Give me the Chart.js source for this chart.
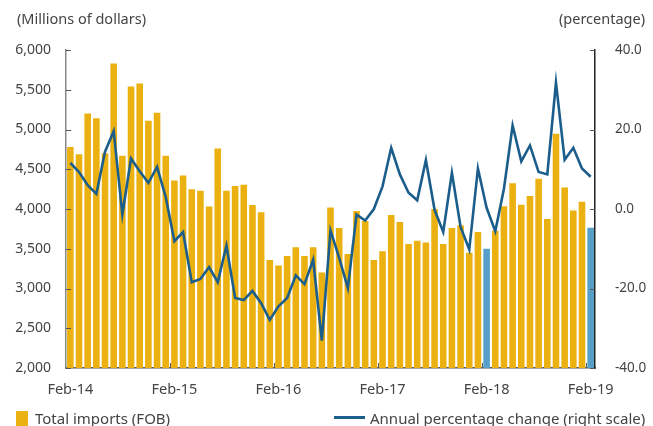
<!DOCTYPE html>
<html lang="en">
<head>
    <meta charset="UTF-8">
    <title>Total imports (FOB)</title>
    <script src="https://cdn.jsdelivr.net/npm/chart.js"></script>
    <style>
        body { margin: 0; background: #fff; font-family: "Noto Sans", sans-serif; color: #444; }
        #wrap { position: relative; width: 653px; height: 426px; overflow: hidden; }
        .note { position: absolute; font-size: 14.5px; top: 8px; }
        .legend { position: absolute; font-size: 15px; top: 408px; white-space: nowrap; }
        .swatch { display: inline-block; width: 12px; height: 15px; background: #ebb110; vertical-align: -2px; margin-right: 7px; }
        .lineKey { display: inline-block; width: 31px; height: 3px; background: #1b5e8c; vertical-align: 5px; margin-right: 5px; }
    </style>
</head>
<body>
<div id="wrap">
    <canvas id="importsChart" width="653" height="426"></canvas>
    <div class="note" style="left:17px;">(Millions of dollars)</div>
    <div class="note" style="right:8px;">(percentage)</div>
    <div class="legend" style="left:16px;"><span class="swatch"></span>Total imports (FOB)</div>
    <div class="legend" style="left:334px;"><span class="lineKey"></span>Annual percentage change (right scale)</div>
</div>

<script>
    // Monthly categories, Feb-14 .. Feb-19
    const months = [
        'Feb-14','Mar-14','Apr-14','May-14','Jun-14','Jul-14','Aug-14','Sep-14','Oct-14','Nov-14','Dec-14','Jan-15',
        'Feb-15','Mar-15','Apr-15','May-15','Jun-15','Jul-15','Aug-15','Sep-15','Oct-15','Nov-15','Dec-15','Jan-16',
        'Feb-16','Mar-16','Apr-16','May-16','Jun-16','Jul-16','Aug-16','Sep-16','Oct-16','Nov-16','Dec-16','Jan-17',
        'Feb-17','Mar-17','Apr-17','May-17','Jun-17','Jul-17','Aug-17','Sep-17','Oct-17','Nov-17','Dec-17','Jan-18',
        'Feb-18','Mar-18','Apr-18','May-18','Jun-18','Jul-18','Aug-18','Sep-18','Oct-18','Nov-18','Dec-18','Jan-19',
        'Feb-19'
    ];

    // Total imports (FOB), millions of dollars
    const imports = [
        4780, 4690, 5200, 5140, 4700, 5830, 4670, 5540, 5580, 5110, 5210, 4670,
        4360, 4420, 4250, 4230, 4030, 4760, 4230, 4290, 4305, 4050, 3960, 3360,
        3290, 3410, 3520, 3410, 3520, 3200, 4020, 3760, 3435, 3975, 3850, 3360,
        3470, 3925, 3835, 3560, 3600, 3580, 4000, 3560, 3760, 3795, 3450, 3710,
        3500, 3725, 4035, 4325, 4055, 4165, 4380, 3875, 4945, 4270, 3980, 4090,
        3765
    ];

    // Annual percentage change (right scale)
    const pctChange = [
        11.6, 9.3, 6.0, 3.8, 14.4, 19.6, -1.4, 12.7, 9.5, 6.6, 10.6, 3.0,
        -8.1, -5.8, -18.4, -17.6, -14.6, -18.4, -9.2, -22.4, -22.9, -20.6, -23.7, -27.9,
        -24.5, -22.4, -16.7, -18.9, -12.8, -33.1, -5.4, -12.3, -19.9, -1.4, -2.9, 0.0,
        5.7, 15.4, 8.7, 4.1, 2.2, 12.3, -0.2, -5.8, 9.1, -4.5, -10.2, 10.2,
        0.3, -5.6, 5.1, 21.0, 12.0, 16.0, 9.3, 8.7, 31.8, 12.4, 15.4, 10.2,
        8.1
    ];

    // Months whose bar is drawn in blue
    const highlighted = ['Feb-18', 'Feb-19'];

    const leftTicks = [2000, 2500, 3000, 3500, 4000, 4500, 5000, 5500, 6000];
    const rightTicks = [-40, -20, 0, 20, 40];

    const yellow = '#ebb110';
    const lightBlue = '#569fc8';
    const darkBlue = '#1b5e8c';

    Chart.defaults.font.family = '"Noto Sans", sans-serif';
    Chart.defaults.font.size = 14;
    Chart.defaults.color = '#444';

    // short tick marks drawn on the inside of the axes
    const innerTicks = {
        id: 'innerTicks',
        afterDatasetsDraw(chart) {
            const ctx = chart.ctx;
            const area = chart.chartArea;
            const x = chart.scales.x, y = chart.scales.y, y1 = chart.scales.y1;
            ctx.save();
            ctx.lineWidth = 1;
            ctx.strokeStyle = '#555';
            ctx.beginPath();
            leftTicks.forEach(v => {
                const py = Math.round(y.getPixelForValue(v)) + 0.5;
                ctx.moveTo(area.left, py); ctx.lineTo(area.left + 5, py);
            });
            rightTicks.forEach(v => {
                const py = Math.round(y1.getPixelForValue(v)) + 0.5;
                ctx.moveTo(area.right - 5, py); ctx.lineTo(area.right, py);
            });
            const half = (x.getPixelForValue(1) - x.getPixelForValue(0)) / 2;
            months.forEach((m, i) => {
                if (i > 0 && m.startsWith('Feb')) {
                    const px = Math.round(x.getPixelForValue(i) - half) + 0.5;
                    ctx.moveTo(px, area.bottom); ctx.lineTo(px, area.bottom - 5);
                }
            });
            ctx.stroke();
            ctx.restore();
        }
    };

    const ctx = document.getElementById('importsChart').getContext('2d');
    new Chart(ctx, {
        data: {
            labels: months,
            datasets: [
                {
                    type: 'line',
                    label: 'Annual percentage change (right scale)',
                    data: pctChange,
                    yAxisID: 'y1',
                    borderColor: darkBlue,
                    borderWidth: 2.6,
                    pointRadius: 0,
                    tension: 0,
                    order: 0
                },
                {
                    type: 'bar',
                    label: 'Total imports (FOB)',
                    data: imports,
                    yAxisID: 'y',
                    backgroundColor: months.map(m => highlighted.includes(m) ? lightBlue : yellow),
                    categoryPercentage: 1.0,
                    barPercentage: 0.76,
                    order: 1
                }
            ]
        },
        options: {
            responsive: false,
            animation: false,
            layout: { padding: { top: 50, left: 0, right: 0, bottom: 0 } },
            plugins: {
                legend: { display: false },
                tooltip: { enabled: false }
            },
            scales: {
                x: {
                    grid: { display: false },
                    border: { display: true, color: '#555', width: 1.5 },
                    ticks: {
                        autoSkip: false,
                        maxRotation: 0,
                        padding: 5,
                        font: { size: 14.5 },
                        callback: function(value, index) {
                            return months[index].startsWith('Feb') && index % 12 === 0 ? months[index] : '';
                        }
                    },
                    afterFit: function(scale) { scale.height = 58; }
                },
                y: {
                    position: 'left',
                    min: 2000,
                    max: 6000,
                    grid: { display: false },
                    border: { display: true, color: '#888', width: 1.5 },
                    ticks: {
                        stepSize: 500,
                        padding: 7,
                        callback: v => v.toLocaleString('en-US')
                    },
                    afterFit: function(scale) { scale.width = 66; }
                },
                y1: {
                    position: 'right',
                    min: -40,
                    max: 40,
                    grid: { display: false },
                    border: { display: true, color: '#222', width: 1.5 },
                    ticks: {
                        stepSize: 20,
                        padding: 12,
                        font: { size: 13.5 },
                        callback: v => v.toFixed(1)
                    },
                    afterFit: function(scale) { scale.width = 58; }
                }
            }
        },
        plugins: [innerTicks]
    });
</script>
</body>
</html>
